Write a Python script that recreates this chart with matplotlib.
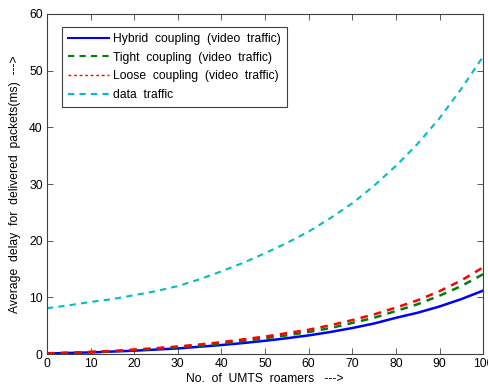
import matplotlib
matplotlib.use("Agg")
import matplotlib.pyplot as plt
from matplotlib.lines import Line2D

plt.rcParams['font.family'] = ['Liberation Sans', 'DejaVu Sans']
plt.rcParams['font.size'] = 8.7

# roamers (x) and delay values
roamers = list(range(0, 101, 5))
hybrid = [0.1, 0.2, 0.3, 0.45, 0.6, 0.8, 1.0, 1.3, 1.6, 1.95, 2.35,
          2.8, 3.3, 3.9, 4.6, 5.4, 6.4, 7.3, 8.4, 9.7, 11.2]
tight = [0.1, 0.2, 0.35, 0.5, 0.7, 0.95, 1.2, 1.5, 1.85, 2.3, 2.8,
         3.3, 3.9, 4.6, 5.5, 6.4, 7.6, 8.8, 10.3, 12.0, 14.1]
loose = [0.15, 0.25, 0.4, 0.55, 0.8, 1.05, 1.35, 1.7, 2.1, 2.6, 3.1,
         3.7, 4.3, 5.1, 6.0, 7.0, 8.2, 9.5, 11.1, 13.0, 15.3]
data_traffic = [8.1, 8.6, 9.2, 9.7, 10.4, 11.1, 12.0, 13.2, 14.6, 16.1, 17.8,
                19.6, 21.6, 24.0, 26.6, 29.7, 33.2, 37.1, 41.6, 46.8, 52.5]

labels = ['Hybrid  coupling  (video  traffic)',
          'Tight  coupling  (video  traffic)',
          'Loose  coupling  (video  traffic)',
          'data  traffic']

fig = plt.figure(figsize=(4.89, 3.87), dpi=100)
ax = fig.add_axes([0.096, 0.085, 0.892, 0.879])

ax.plot(roamers, hybrid, color='#0000ff', lw=1.8)
ax.plot(roamers, tight, color='#008000', lw=1.8, ls=(0, (3, 2.5)))
ax.plot(roamers, loose, color='#ff0000', lw=1.8, ls=(0, (3, 2.5)))
ax.plot(roamers, data_traffic, color='#00bfbf', lw=1.5, ls=(0, (3, 2.5)))

handles = [Line2D([], [], color='#0000ff', lw=1.5),
           Line2D([], [], color='#008000', lw=1.5, ls=(0, (3, 2.5))),
           Line2D([], [], color='#ff0000', lw=1.0, ls=(0, (2, 2))),
           Line2D([], [], color='#00bfbf', lw=1.5, ls=(0, (3, 2.5)))]
leg = ax.legend(handles, labels, loc='upper left', fontsize=8.7, fancybox=False,
                edgecolor='#404040', framealpha=1, handlelength=3.4,
                handletextpad=0.35, borderpad=0.5,
                bbox_to_anchor=(15 / 436, 1 - 13 / 340), borderaxespad=0,
                labelspacing=0.55)
leg.get_frame().set_linewidth(0.8)

ax.set_xlim(0, 100)
ax.set_ylim(0, 60)
ax.set_xticks(range(0, 101, 10))
ax.set_yticks(range(0, 61, 10))
ax.tick_params(direction='in', top=True, right=True, length=4, width=0.6,
               colors='#404040', labelcolor='black', pad=3)
for s in ax.spines.values():
    s.set_color('#404040')
    s.set_linewidth(0.8)

ax.set_xlabel('No.  of  UMTS  roamers   --->', labelpad=2)
ax.set_ylabel('Average  delay  for  delivered  packets(ms)  --->', labelpad=6)

fig.savefig('out.png', dpi=100)
